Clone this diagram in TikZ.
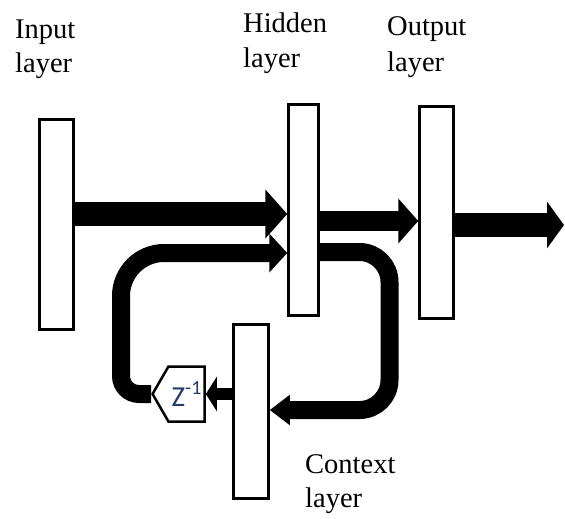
\documentclass[tikz,border=0pt]{standalone}
\usepackage{fontspec}
\setmainfont{Liberation Serif}
\newfontfamily\zfont{Carlito}
\usetikzlibrary{arrows.meta,shapes.symbols}
\definecolor{zblue}{RGB}{36,58,110}

\tikzset{
  layerbar/.style={draw, line width=2.5pt, fill=white, inner sep=0pt},
  lbl/.style={anchor=base west, inner sep=0pt, font=\fontsize{28.5}{34}\selectfont},
  zdelay/.style={draw, line width=2.5pt, fill=white, inner sep=0pt,
    signal, signal to=west, signal from=nowhere, signal pointer angle=120,
    font=\zfont\fontsize{29}{30}\selectfont, text=zblue},
}
\newcommand{\zsup}[1]{\raisebox{0.4em}{\fontsize{20}{20}\selectfont #1}}

\begin{document}
\begin{tikzpicture}[x=1pt,y=-1pt]
\useasboundingbox (0,0) rectangle (565,519);
% the four layers
\node[layerbar, minimum width=34pt, minimum height=210pt] (inp) at (56.5,224.5) {};
\node[layerbar, minimum width=30pt, minimum height=211pt] (hid) at (303.5,210) {};
\node[layerbar, minimum width=34pt, minimum height=212pt] (out) at (436.5,212.5) {};
\node[layerbar, minimum width=35pt, minimum height=174pt] (ctx) at (251,411.5) {};
% unit delay
\node[zdelay, minimum width=52pt, minimum height=55pt] (zbox) at (186.5,394) {Z\zsup{-1}};
\coordinate (outend) at (564,225);

% layer names
\node[lbl] (inlbl) at (15,39) {Input};
\node[lbl] (inlbl2) at (15,73) {layer};
\node[lbl] (hidlbl) at (243,33) {Hidden};
\node[lbl] (hidlbl2) at (243,68) {layer};
\node[lbl] (outlbl) at (387,36) {Output};
\node[lbl] (outlbl2) at (387,71) {layer};
\node[lbl] (ctxlbl) at (305,473) {Context};
\node[lbl] (ctxlbl2) at (305,507) {layer};

% forward flow
\draw[line width=24pt, -{Triangle[width=48pt,length=22pt]}] (inp.east |- 0,214) -- (hid.west |- 0,214);
\draw[line width=20pt, -{Triangle[width=44pt,length=20pt]}] (hid.east |- 0,221) -- (out.west |- 0,221);
\draw[line width=24pt, -{Triangle[width=46pt,length=17pt]}] (out.east |- 0,225) -- (outend);

% copy to context layer
\draw[line width=18pt, rounded corners=30pt, -{Triangle[width=29pt,length=20pt]}]
  (hid.east |- 0,252) -| (389.5,410) -- (ctx.east |- 0,410);
% context through delay back to hidden layer
\draw[line width=12pt, -{Triangle[width=34pt,length=11pt]}] (ctx.west |- 0,394) -- (zbox.east |- 0,394);
\draw[line width=18pt, -{Triangle[width=38pt,length=18pt]}]
  (zbox.west) [rounded corners=18pt] -- (121,394) [rounded corners=43pt] -- (121,253) -- (hid.west |- 0,253);
\end{tikzpicture}
\end{document}
